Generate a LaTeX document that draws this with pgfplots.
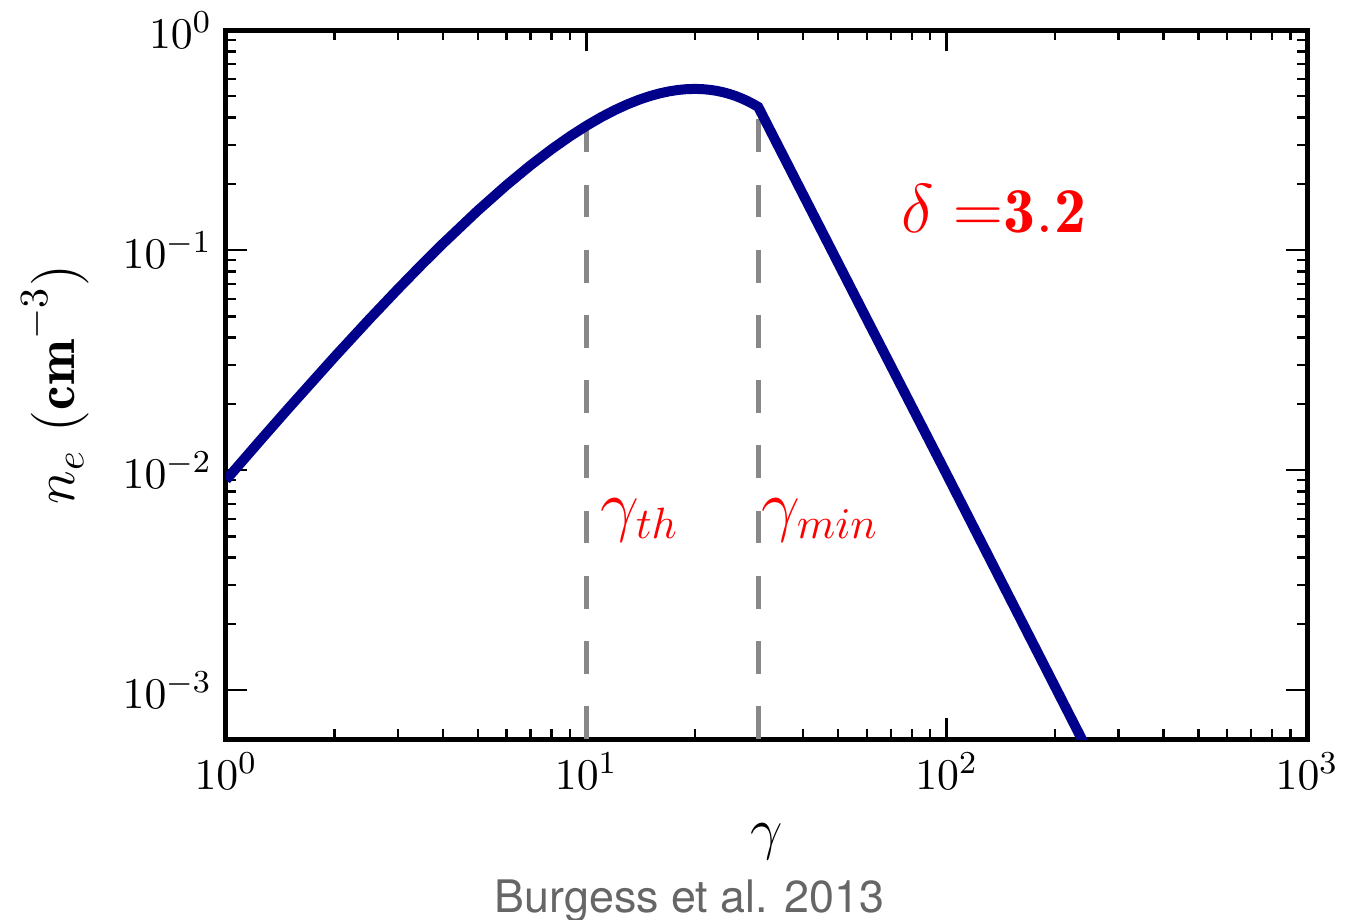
\documentclass[border=0pt]{standalone}
\usepackage{pgfplots}
\pgfplotsset{compat=1.18}
\usepackage{fontspec}
\newfontfamily\capfont{TeX Gyre Heros}

\definecolor{curveblue}{RGB}{0,0,139}
\definecolor{markgray}{RGB}{136,136,136}
\definecolor{capgray}{RGB}{102,102,102}
\definecolor{annred}{RGB}{255,0,0}

% electron distribution: thermal part up to gamma_min, power law above
\pgfplotstableread{
gamma   ne
1       0.009026
1.25    0.013754
1.5     0.019317
2       0.032667
2.5     0.048553
3       0.066507
3.5     0.086108
4       0.106983
5       0.151254
6       0.197079
7       0.242719
8       0.286851
9       0.328498
10      0.366960
11      0.401767
12      0.432635
13      0.459428
14      0.482122
15      0.500787
16      0.515565
17      0.526637
18      0.534230
19      0.538594
20      0.539988
21      0.538681
22      0.534946
23      0.529044
24      0.521230
25      0.511749
26      0.500837
27      0.488707
28      0.475559
29      0.461588
30      0.446963
60      0.048638
100     0.009570
300     0.000282
}\distribution

\begin{document}
\begin{tikzpicture}
\begin{axis}[
  name=ax,
  at={(0,0)}, anchor=south west,
  xmode=log, ymode=log,
  scale only axis,
  width=270.25pt, height=177.25pt,
  xmin=1, xmax=1000, ymin=6e-4, ymax=1,
  xtick={1,10,100,1000},
  ytick={1e-3,1e-2,1e-1,1},
  axis line style={line width=1.25pt},
  tick align=inside,
  major tick length=5.25pt,
  minor tick length=2.6pt,
  every tick/.style={black, line width=0.6pt},
  tick label style={font=\fontsize{11}{13}\selectfont},
  xlabel={$\gamma$},
  ylabel={$n_e$ $\mathbf{(cm}^{-3}\mathbf{)}$},
  xlabel style={font=\fontsize{14}{16}\selectfont,
    at={(axis description cs:0.5,-0.1446)}, anchor=center},
  ylabel style={font=\fontsize{13.8}{16}\selectfont,
    at={(axis description cs:-0.158,0.5)}, anchor=center},
]
  % threshold markers
  \addplot[markgray, line width=1.25pt, dash pattern=on 8.2pt off 8.1pt]
    coordinates {(10,6e-4) (10,0.366960)};
  \addplot[markgray, line width=1.25pt, dash pattern=on 8.2pt off 8.1pt]
    coordinates {(30,6e-4) (30,0.446963)};

  \addplot[curveblue, line width=2.5pt] table[x=gamma, y=ne] {\distribution};

  \node[annred, anchor=base west, inner sep=0pt, font=\fontsize{16}{18}\selectfont]
    at (axis cs:10.91,0.00545) {$\gamma_{th}$};
  \node[annred, anchor=base west, inner sep=0pt, font=\fontsize{16}{18}\selectfont]
    at (axis cs:30.53,0.00545) {$\gamma_{min}$};
  \node[annred, anchor=base west, inner sep=0pt, font=\fontsize{16}{18}\selectfont]
    at (axis cs:74.7,0.1208) {$\delta$ $=$$\mathbf{3.2}$};
\end{axis}
% source credit below the axis
\node[capgray, anchor=base, inner sep=0pt, font=\capfont\fontsize{11.2}{13}\selectfont]
  at ([xshift=115.9pt,yshift=-43.25pt]ax.south west) {Burgess et al. 2013};
\pgfresetboundingbox
\path[use as bounding box]
  ([xshift=-56.5pt,yshift=-45pt]ax.south west) rectangle
  ([xshift=285.25pt,yshift=184.75pt]ax.south west);
\end{tikzpicture}
\end{document}
